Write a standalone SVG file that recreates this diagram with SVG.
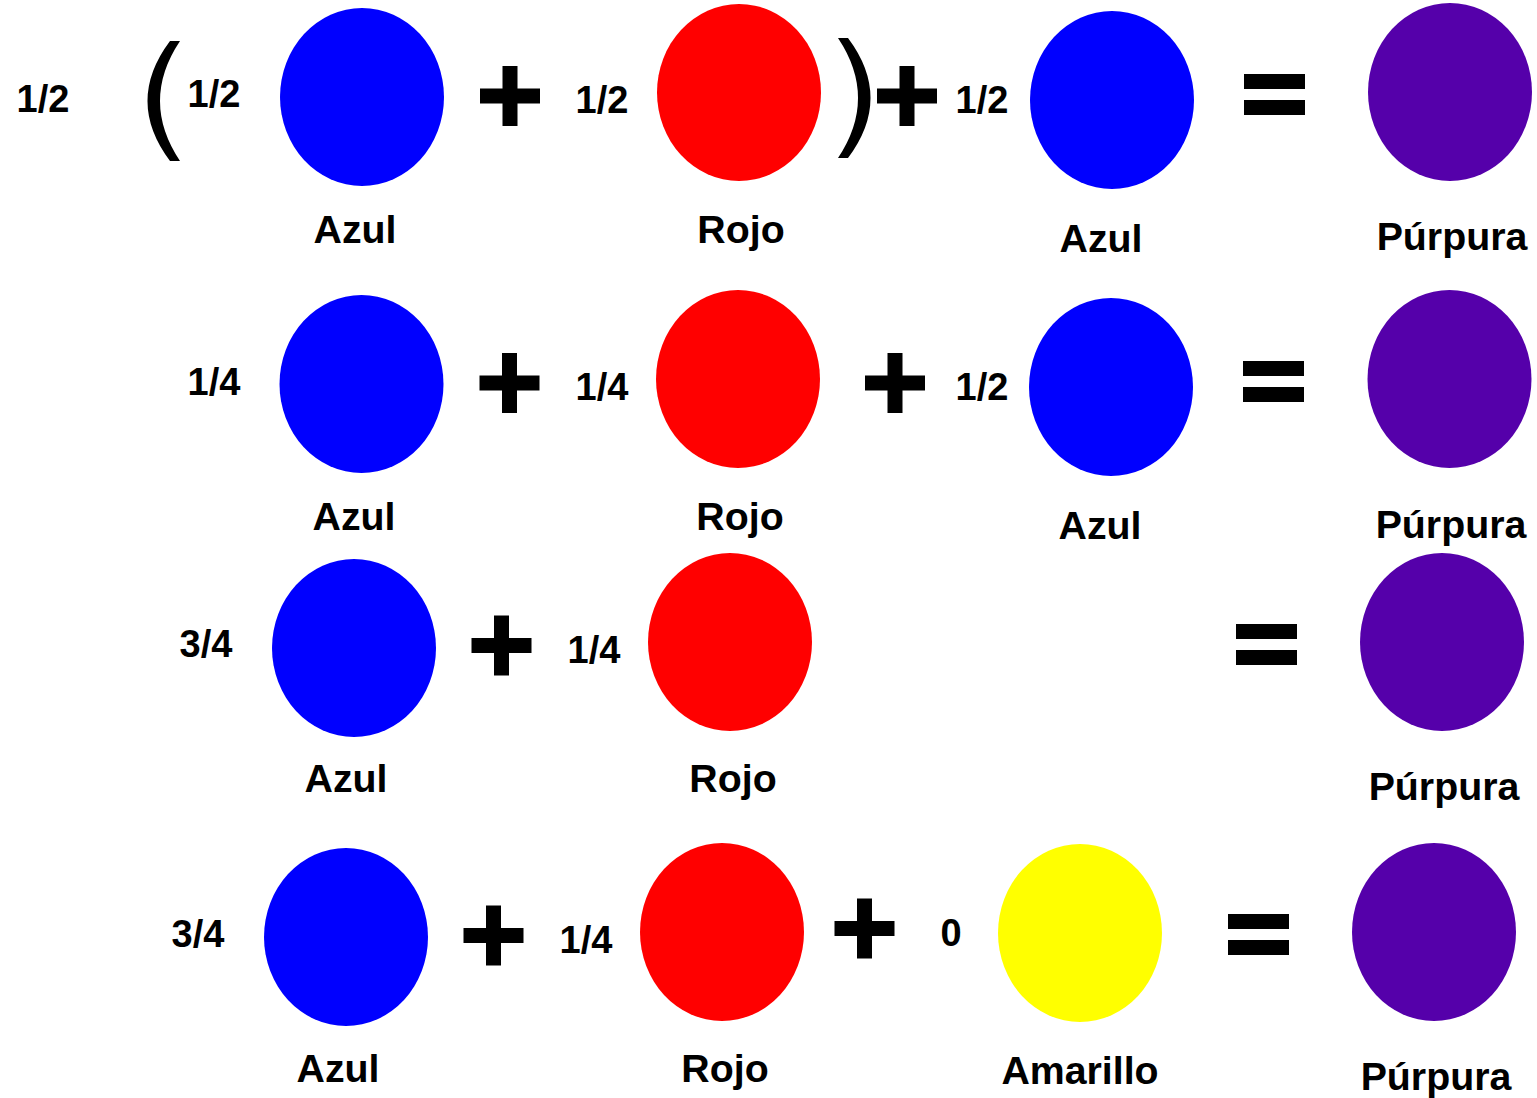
<svg xmlns="http://www.w3.org/2000/svg" width="1537" height="1098" viewBox="0 0 1537 1098">
  <style>
    text { font-family: "Liberation Sans", Arial, sans-serif; font-weight: bold; font-size: 38px; fill: #000; text-anchor: middle; }
    text.lbl { font-size: 39.3px; }
    .azul { fill: #0000ff; }
    .rojo { fill: #ff0000; }
    .amarillo { fill: #ffff00; }
    .purpura { fill: #5500aa; }
    .op { fill: #000; }
  </style>
  <defs>
    <!-- plus sign, 60x60 with 15px bars, centred on origin -->
    <path id="plus" d="M -30,-7.5 H 30 V 7.5 H -30 Z M -7.5,-30 H 7.5 V 30 H -7.5 Z"/>
    <!-- equals sign, two 61x15 bars -->
    <path id="equals" d="M -30.5,-20.5 h 61 v 15 h -61 Z M -30.5,5.5 h 61 v 15 h -61 Z"/>
  </defs>

  <rect width="1537" height="1098" fill="#fff"/>

  <!-- Row 1: 1/2 (1/2 Azul + 1/2 Rojo) + 1/2 Azul = Púrpura -->
  <g id="r1-factor"><text x="43" y="112">1/2</text></g>
  <g id="r1-azul1">
    <text x="214" y="107">1/2</text>
    <ellipse class="azul" cx="362" cy="97" rx="82" ry="89"/>
    <text class="lbl" x="355" y="243">Azul</text>
  </g>
  <g id="r1-rojo">
    <text x="602" y="113">1/2</text>
    <ellipse class="rojo" cx="739" cy="92.5" rx="82" ry="88.5"/>
    <text class="lbl" x="741" y="243">Rojo</text>
  </g>
  <g id="r1-azul2">
    <text x="982" y="113">1/2</text>
    <ellipse class="azul" cx="1112" cy="100" rx="82" ry="89"/>
    <text class="lbl" x="1101" y="252">Azul</text>
  </g>
  <g id="r1-purpura">
    <ellipse class="purpura" cx="1450" cy="92" rx="82" ry="89"/>
    <text class="lbl" x="1452" y="250">Púrpura</text>
  </g>

  <!-- Row 2: 1/4 Azul + 1/4 Rojo + 1/2 Azul = Púrpura -->
  <g id="r2-azul1">
    <text x="214" y="395">1/4</text>
    <ellipse class="azul" cx="361.5" cy="384" rx="82" ry="89"/>
    <text class="lbl" x="354" y="530">Azul</text>
  </g>
  <g id="r2-rojo">
    <text x="602" y="400">1/4</text>
    <ellipse class="rojo" cx="738" cy="379" rx="82" ry="89"/>
    <text class="lbl" x="740" y="530">Rojo</text>
  </g>
  <g id="r2-azul2">
    <text x="982" y="400">1/2</text>
    <ellipse class="azul" cx="1111" cy="387" rx="82" ry="89"/>
    <text class="lbl" x="1100" y="539">Azul</text>
  </g>
  <g id="r2-purpura">
    <ellipse class="purpura" cx="1449.5" cy="379" rx="82" ry="89"/>
    <text class="lbl" x="1451" y="538">Púrpura</text>
  </g>

  <!-- Row 3: 3/4 Azul + 1/4 Rojo = Púrpura -->
  <g id="r3-azul">
    <text x="206" y="657">3/4</text>
    <ellipse class="azul" cx="354" cy="648" rx="82" ry="89"/>
    <text class="lbl" x="346" y="792">Azul</text>
  </g>
  <g id="r3-rojo">
    <text x="594" y="663">1/4</text>
    <ellipse class="rojo" cx="730" cy="642" rx="82" ry="89"/>
    <text class="lbl" x="733" y="792">Rojo</text>
  </g>
  <g id="r3-purpura">
    <ellipse class="purpura" cx="1442" cy="642" rx="82" ry="89"/>
    <text class="lbl" x="1444" y="800">Púrpura</text>
  </g>

  <!-- Row 4: 3/4 Azul + 1/4 Rojo + 0 Amarillo = Púrpura -->
  <g id="r4-azul">
    <text x="198" y="947">3/4</text>
    <ellipse class="azul" cx="346" cy="937" rx="82" ry="89"/>
    <text class="lbl" x="338" y="1082">Azul</text>
  </g>
  <g id="r4-rojo">
    <text x="586" y="953">1/4</text>
    <ellipse class="rojo" cx="722" cy="932" rx="82" ry="89"/>
    <text class="lbl" x="725" y="1082">Rojo</text>
  </g>
  <g id="r4-amarillo">
    <text x="951" y="946">0</text>
    <ellipse class="amarillo" cx="1080" cy="933" rx="82" ry="89"/>
    <text class="lbl" x="1080" y="1084">Amarillo</text>
  </g>
  <g id="r4-purpura">
    <ellipse class="purpura" cx="1434" cy="932" rx="82" ry="89"/>
    <text class="lbl" x="1436" y="1090">Púrpura</text>
  </g>

  <!-- operators: brackets, plus and equals signs -->
  <g id="operators" class="op">
    <path d="M 170,41 L 180,41 Q 140,101 180,161 L 170,161 Q 125,101 170,41 Z"/>
    <path d="M 848,38 L 838,38 Q 878,98 838,158 L 848,158 Q 893,98 848,38 Z"/>

    <use href="#plus" x="510" y="96"/>
    <use href="#plus" x="907" y="96"/>
    <use href="#equals" x="1274.5" y="94.5"/>

    <use href="#plus" x="509.5" y="383"/>
    <use href="#plus" x="895" y="383"/>
    <use href="#equals" x="1273.5" y="381.5"/>

    <use href="#plus" x="501.5" y="645.5"/>
    <use href="#equals" x="1266.5" y="644.5"/>

    <use href="#plus" x="493.5" y="935.5"/>
    <use href="#plus" x="864.5" y="928.5"/>
    <use href="#equals" x="1258.5" y="934.5"/>
  </g>
</svg>
